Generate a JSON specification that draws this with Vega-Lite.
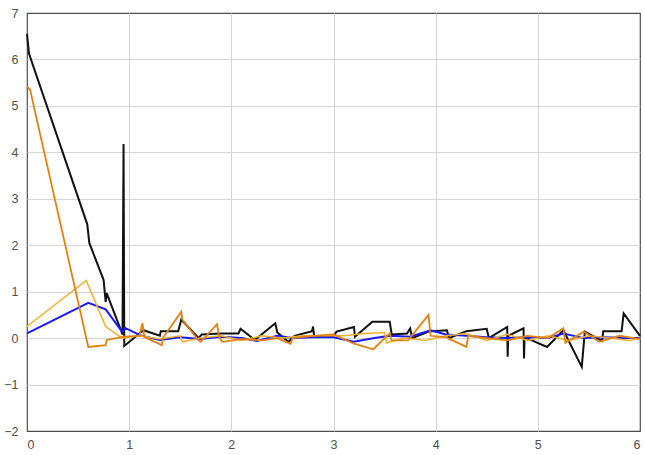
{
  "$schema": "https://vega.github.io/schema/vega-lite/v6.json",
  "width": 613,
  "height": 418,
  "autosize": {"type": "none"},
  "padding": {"left": 27, "top": 13, "right": 5, "bottom": 24},
  "background": "white",
  "config": {
    "view": {"stroke": "#4d4d4d", "strokeWidth": 1.2},
    "axis": {
      "grid": true,
      "gridColor": "#d6d6d6",
      "gridWidth": 1,
      "domain": false,
      "ticks": false,
      "labelColor": "#505050",
      "labelFont": "Liberation Sans",
      "labelFontSize": 12.5,
      "title": null
    }
  },
  "datasets": {
    "k": [
      {"x": 0, "y": 6.55}, {"x": 0.02, "y": 6.12}, {"x": 0.59, "y": 2.45}, {"x": 0.61, "y": 2.05},
      {"x": 0.75, "y": 1.25}, {"x": 0.77, "y": 0.78}, {"x": 0.78, "y": 0.97}, {"x": 0.935, "y": 0.08},
      {"x": 0.945, "y": 4.18}, {"x": 0.952, "y": -0.17}, {"x": 1.14, "y": 0.17}, {"x": 1.3, "y": 0.05},
      {"x": 1.31, "y": 0.15}, {"x": 1.48, "y": 0.15}, {"x": 1.51, "y": 0.4}, {"x": 1.68, "y": 0.0},
      {"x": 1.71, "y": 0.08}, {"x": 1.89, "y": 0.1}, {"x": 2.07, "y": 0.1}, {"x": 2.09, "y": 0.2},
      {"x": 2.23, "y": -0.04}, {"x": 2.43, "y": 0.32}, {"x": 2.45, "y": 0.12}, {"x": 2.56, "y": -0.08},
      {"x": 2.62, "y": 0.05}, {"x": 2.79, "y": 0.15}, {"x": 2.8, "y": 0.25}, {"x": 2.81, "y": 0.05},
      {"x": 3.0, "y": 0.03}, {"x": 3.03, "y": 0.14}, {"x": 3.2, "y": 0.24}, {"x": 3.21, "y": 0.03},
      {"x": 3.38, "y": 0.35}, {"x": 3.55, "y": 0.35}, {"x": 3.57, "y": 0.08}, {"x": 3.72, "y": 0.1},
      {"x": 3.75, "y": 0.21}, {"x": 3.77, "y": 0.0}, {"x": 3.93, "y": 0.14}, {"x": 4.11, "y": 0.17},
      {"x": 4.13, "y": 0.0}, {"x": 4.3, "y": 0.15}, {"x": 4.5, "y": 0.2}, {"x": 4.52, "y": 0.0},
      {"x": 4.7, "y": 0.24}, {"x": 4.705, "y": -0.4}, {"x": 4.71, "y": 0.05}, {"x": 4.86, "y": 0.21},
      {"x": 4.865, "y": -0.44}, {"x": 4.87, "y": 0.02}, {"x": 5.09, "y": -0.19}, {"x": 5.25, "y": 0.17},
      {"x": 5.43, "y": -0.62}, {"x": 5.46, "y": 0.14}, {"x": 5.63, "y": -0.06}, {"x": 5.64, "y": 0.15},
      {"x": 5.82, "y": 0.15}, {"x": 5.84, "y": 0.53}, {"x": 6.0, "y": 0.05}
    ],
    "b": [
      {"x": 0, "y": 0.1}, {"x": 0.6, "y": 0.76}, {"x": 0.77, "y": 0.62}, {"x": 0.93, "y": 0.14},
      {"x": 0.96, "y": 0.22}, {"x": 1.12, "y": 0.05}, {"x": 1.3, "y": -0.04}, {"x": 1.5, "y": 0.02},
      {"x": 1.7, "y": -0.02}, {"x": 1.9, "y": 0.03}, {"x": 2.1, "y": 0.0}, {"x": 2.25, "y": -0.06},
      {"x": 2.45, "y": 0.05}, {"x": 2.6, "y": 0.0}, {"x": 2.8, "y": 0.02}, {"x": 3.0, "y": 0.02},
      {"x": 3.2, "y": -0.08}, {"x": 3.4, "y": 0.0}, {"x": 3.55, "y": 0.05}, {"x": 3.75, "y": 0.03},
      {"x": 3.95, "y": 0.17}, {"x": 4.1, "y": 0.08}, {"x": 4.3, "y": 0.05}, {"x": 4.5, "y": 0.02},
      {"x": 4.7, "y": 0.0}, {"x": 4.9, "y": 0.02}, {"x": 5.1, "y": 0.0}, {"x": 5.25, "y": 0.1},
      {"x": 5.45, "y": 0.0}, {"x": 5.65, "y": 0.02}, {"x": 5.85, "y": 0.0}, {"x": 6.0, "y": 0.0}
    ],
    "yl": [
      {"x": 0, "y": 0.25}, {"x": 0.58, "y": 1.24}, {"x": 0.77, "y": 0.25}, {"x": 0.93, "y": 0.0},
      {"x": 1.1, "y": 0.05}, {"x": 1.3, "y": -0.02}, {"x": 1.5, "y": 0.05}, {"x": 1.52, "y": -0.08},
      {"x": 1.7, "y": 0.0}, {"x": 1.9, "y": 0.05}, {"x": 2.1, "y": -0.05}, {"x": 2.3, "y": 0.05},
      {"x": 2.5, "y": 0.0}, {"x": 2.7, "y": 0.05}, {"x": 2.9, "y": 0.05}, {"x": 3.1, "y": 0.05},
      {"x": 3.3, "y": 0.1}, {"x": 3.5, "y": 0.12}, {"x": 3.52, "y": -0.1}, {"x": 3.7, "y": 0.0},
      {"x": 3.9, "y": -0.05}, {"x": 4.1, "y": 0.05}, {"x": 4.3, "y": 0.1}, {"x": 4.5, "y": -0.05},
      {"x": 4.7, "y": 0.08}, {"x": 4.9, "y": -0.05}, {"x": 5.1, "y": 0.05}, {"x": 5.3, "y": -0.05},
      {"x": 5.5, "y": 0.05}, {"x": 5.7, "y": 0.0}, {"x": 5.9, "y": -0.05}, {"x": 6.0, "y": 0.0}
    ],
    "o": [
      {"x": 0.0, "y": 5.42}, {"x": 0.03, "y": 5.35}, {"x": 0.6, "y": -0.19}, {"x": 0.77, "y": -0.15},
      {"x": 0.78, "y": -0.04}, {"x": 0.95, "y": 0.03}, {"x": 1.1, "y": 0.05}, {"x": 1.13, "y": 0.32},
      {"x": 1.15, "y": 0.02}, {"x": 1.32, "y": -0.15}, {"x": 1.33, "y": 0.0}, {"x": 1.51, "y": 0.57},
      {"x": 1.52, "y": 0.4}, {"x": 1.68, "y": -0.05}, {"x": 1.7, "y": -0.08}, {"x": 1.86, "y": 0.3},
      {"x": 1.88, "y": 0.03}, {"x": 1.91, "y": -0.08}, {"x": 2.1, "y": -0.02}, {"x": 2.3, "y": -0.05},
      {"x": 2.45, "y": 0.0}, {"x": 2.58, "y": -0.12}, {"x": 2.6, "y": 0.0}, {"x": 2.8, "y": 0.05},
      {"x": 3.0, "y": 0.08}, {"x": 3.2, "y": -0.12}, {"x": 3.39, "y": -0.24}, {"x": 3.55, "y": 0.1},
      {"x": 3.57, "y": -0.05}, {"x": 3.73, "y": -0.05}, {"x": 3.93, "y": 0.5}, {"x": 3.95, "y": 0.05},
      {"x": 4.1, "y": 0.02}, {"x": 4.3, "y": -0.19}, {"x": 4.32, "y": 0.05}, {"x": 4.5, "y": 0.0},
      {"x": 4.7, "y": -0.05}, {"x": 4.9, "y": 0.05}, {"x": 5.1, "y": 0.0}, {"x": 5.25, "y": 0.21},
      {"x": 5.27, "y": -0.1}, {"x": 5.45, "y": 0.14}, {"x": 5.6, "y": -0.08}, {"x": 5.8, "y": 0.05},
      {"x": 6.0, "y": -0.02}
    ]
  },
  "encoding": {
    "x": {"field": "x", "type": "quantitative", "scale": {"domain": [0, 6], "nice": false, "zero": false},
          "axis": {"values": [0, 1, 2, 3, 4, 5, 6], "labelPadding": 7,
                   "gridOpacity": {"condition": {"test": "datum.value <= 0 || datum.value >= 6", "value": 0}, "value": 1}}},
    "y": {"field": "y", "type": "quantitative", "scale": {"domain": [-2, 7], "nice": false, "zero": false},
          "axis": {"values": [-2, -1, 0, 1, 2, 3, 4, 5, 6, 7], "labelPadding": 9,
                   "gridOpacity": {"condition": {"test": "datum.value <= -2 || datum.value >= 7", "value": 0}, "value": 1}}}
  },
  "layer": [
    {"data": {"name": "k"}, "mark": {"type": "line", "color": "#111111", "strokeWidth": 2}},
    {"data": {"name": "b"}, "mark": {"type": "line", "color": "#1a1aff", "strokeWidth": 2}},
    {"data": {"name": "yl"}, "mark": {"type": "line", "color": "#f0b02a", "strokeWidth": 1.5}},
    {"data": {"name": "o"}, "mark": {"type": "line", "color": "#e2820e", "strokeWidth": 1.8}}
  ]
}
